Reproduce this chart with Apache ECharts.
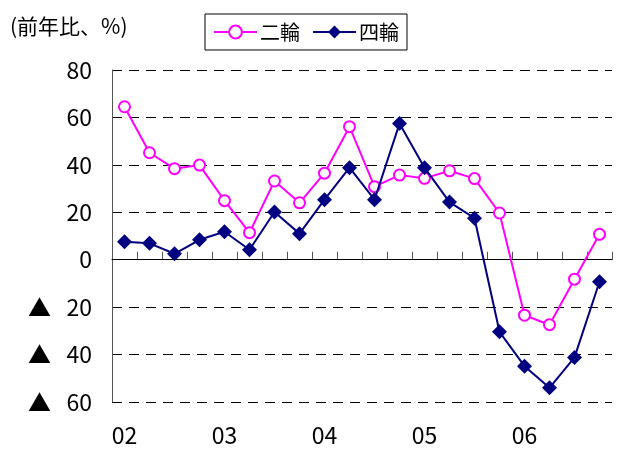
<!DOCTYPE html>
<html>
<head>
<meta charset="utf-8">
<script src="https://cdn.jsdelivr.net/npm/echarts@6/dist/echarts.min.js"></script>
<style>
  html, body { margin: 0; padding: 0; background: #fff; }
  #chart { width: 617px; height: 450px; }
</style>
</head>
<body>
<div id="chart"></div>
<script>
  // quarters 2002Q1 .. 2006Q4
  var quarters = []
  var years = ['02', '03', '04', '05', '06']
  for (var y = 0; y < years.length; y++) {
    for (var q = 1; q <= 4; q++) quarters.push(years[y] + 'Q' + q)
  }
  var twoWheel = [64.5, 45.1, 38.4, 39.9, 24.9, 11.4, 33.2, 24.0, 36.5, 56.1,
                  30.8, 35.7, 34.3, 37.5, 34.2, 19.7, -23.4, -27.4, -8.2, 10.7]
  var fourWheel = [7.6, 6.9, 2.5, 8.4, 11.8, 4.2, 20.1, 11.0, 25.3, 38.8,
                   25.3, 57.4, 38.8, 24.3, 17.5, -30.4, -44.9, -54.0, -41.2, -9.3]
  var yTicks = { min: -60, max: 80, interval: 20 }

  var font = '"Noto Sans CJK JP", "Noto Sans", sans-serif'
  var gridTop = 70, gridBottom = 48, chartH = 450, tickLen = 8
  var plotH = chartH - gridTop - gridBottom
  // thin strip sitting on the zero line, its split lines act as the quarter ticks
  var zeroY = gridTop + plotH * yTicks.max / (yTicks.max - yTicks.min)

  var myChart = echarts.init(document.getElementById('chart'))
  myChart.setOption({
    animation: false,
    title: {
      text: '(前年比、%)',
      left: 5,
      top: 11,
      textStyle: { fontFamily: font, fontSize: 21, fontWeight: 'normal', color: '#000' }
    },
    legend: {
      left: 205,
      top: 14,
      padding: [8, 8, 8, 8],
      borderColor: '#000',
      borderWidth: 1,
      itemWidth: 43,
      itemHeight: 16,
      itemGap: 12,
      textStyle: { fontFamily: font, fontSize: 20, color: '#000', padding: [0, 0, 0, -2] },
      data: ['二輪', '四輪']
    },
    grid: [
      { left: 112, right: 5, top: gridTop, bottom: gridBottom },
      { left: 112, right: 5, top: zeroY - tickLen, height: tickLen }
    ],
    xAxis: [
      {
        type: 'category',
        data: quarters,
        gridIndex: 0,
        boundaryGap: true,
        axisLine: { show: true, onZero: true, lineStyle: { color: '#000', width: 1 } },
        axisTick: { show: false },
        axisLabel: { show: false }
      },
      {
        type: 'category',
        data: quarters,
        gridIndex: 0,
        position: 'bottom',
        boundaryGap: true,
        axisLine: { show: false, onZero: false },
        axisTick: { show: false },
        axisLabel: {
          interval: 3,
          margin: 22,
          fontFamily: font,
          fontSize: 23,
          color: '#000',
          formatter: function (v) { return v.slice(0, 2) }
        }
      },
      {
        // quarter boundaries 0..20 on a value scale, drawn as short split lines
        type: 'value',
        gridIndex: 1,
        min: 0,
        max: quarters.length,
        interval: 1,
        axisLine: { show: false, onZero: false },
        axisTick: { show: false },
        axisLabel: { show: false },
        splitLine: { show: true, lineStyle: { color: '#555', width: 1 } }
      }
    ],
    yAxis: [
      {
        type: 'value',
        gridIndex: 0,
        min: yTicks.min,
        max: yTicks.max,
        interval: yTicks.interval,
        axisLine: { show: true, onZero: false, lineStyle: { color: '#555' } },
        axisTick: { show: false },
        axisLabel: {
          margin: 20,
          fontFamily: font,
          fontSize: 23,
          color: '#000',
          formatter: function (v) { return v < 0 ? '▲   ' + (-v) : String(v) }
        },
        splitLine: { show: true, lineStyle: { color: '#000', type: [10, 7], width: 1 } }
      },
      {
        type: 'value',
        gridIndex: 1,
        min: 0,
        max: 1,
        axisLine: { show: false },
        axisTick: { show: false },
        axisLabel: { show: false },
        splitLine: { show: false }
      }
    ],
    series: [
      {
        name: '二輪',
        type: 'line',
        xAxisIndex: 0,
        yAxisIndex: 0,
        data: twoWheel,
        symbol: 'circle',
        symbolSize: 11,
        lineStyle: { color: '#ff00ff', width: 2 },
        itemStyle: { color: '#fff', borderColor: '#ff00ff', borderWidth: 2 },
        z: 3
      },
      {
        name: '四輪',
        type: 'line',
        xAxisIndex: 0,
        yAxisIndex: 0,
        data: fourWheel,
        symbol: 'diamond',
        symbolSize: 15,
        lineStyle: { color: '#000080', width: 2 },
        itemStyle: { color: '#000080' },
        z: 4
      }
    ]
  })
</script>
</body>
</html>
